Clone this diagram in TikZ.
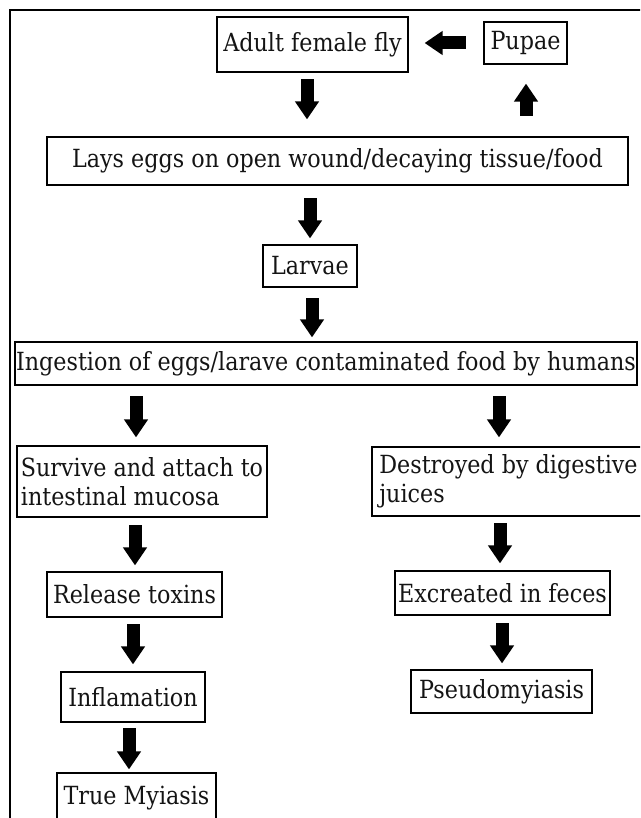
\documentclass[tikz,border=0pt]{standalone}
\usepackage{fontspec}
\setmainfont{DejaVu Serif}[FakeStretch=0.89]
\usetikzlibrary{arrows.meta}
\tikzset{
  box/.style={draw=black, line width=2.8pt, inner sep=0pt, text=black!92,
    font=\fontsize{25}{29}\selectfont},
  mbox/.style={box, align=left},
  barrow/.style={draw=black, line width=13pt,
    -{Triangle[length=18pt,width=23pt]}},
  frame/.style={draw=black, line width=2.5pt}
}
\begin{document}
\begin{tikzpicture}[x=1pt,y=-1pt]
\clip (0,0) rectangle (640,818);
\fill[white] (0,0) rectangle (640,818);
\draw[frame] (660,10) -- (10,10) -- (10,840);

\node[box, minimum width=191, minimum height=55] (adult) at (312.5,44.5) {Adult female fly};
\node[box, minimum width=83, minimum height=42] (pupae) at (525.5,43) {Pupae};
\node[box, minimum width=581, minimum height=48] (lays) at (337.5,161) {Lays eggs on open wound/decaying tissue/food};
\node[box, minimum width=94, minimum height=42] (larvae) at (310,266) {Larvae};
\node[box, minimum width=622, minimum height=43] (ingest) at (326,363.5) {Ingestion of eggs/larave contaminated food by humans};
\node[mbox, minimum width=250, minimum height=71] (survive) at (142,481.5) {Survive and attach to\\intestinal mucosa};
\node[mbox, minimum width=273, minimum height=69] (destroy) at (508.5,481.5) {Destroyed by digestive\\juices};
\node[box, minimum width=175, minimum height=45] (release) at (134.5,594.5) {Release toxins};
\node[box, minimum width=144, minimum height=50] (inflam) at (133,697) {Inflamation};
\node[box, minimum width=159, minimum height=50] (truem) at (136.5,798) {True Myiasis};
\node[box, minimum width=215, minimum height=44] (excr) at (502.5,593) {Excreated in feces};
\node[box, minimum width=181, minimum height=43] (pseudo) at (501.5,691.5) {Pseudomyiasis};

% arrows
\draw[barrow] ([xshift=-17pt]pupae.west) -- ++(-41,0);
\draw[barrow] ([xshift=-5.5pt,yshift=-6pt]adult.south) -- ++(0,40);
\draw[barrow] ([xshift=188.5pt,yshift=20pt]lays.north) -- ++(0,-32);
\draw[barrow] ([xshift=-27.5pt,yshift=-12pt]lays.south) -- ++(0,40);
\draw[barrow] ([xshift=2pt,yshift=-10pt]larvae.south) -- ++(0,39);
\draw[barrow] ([xshift=-190pt,yshift=-10pt]ingest.south) -- ++(0,41);
\draw[barrow] ([xshift=173pt,yshift=-10pt]ingest.south) -- ++(0,41);
\draw[barrow] ([xshift=-7pt,yshift=-7pt]survive.south) -- ++(0,40);
\draw[barrow] ([xshift=-1.5pt,yshift=-6pt]release.south) -- ++(0,40);
\draw[barrow] ([xshift=-4pt,yshift=-5pt]inflam.south) -- ++(0,41);
\draw[barrow] ([xshift=-8.5pt,yshift=-6pt]destroy.south) -- ++(0,40);
\draw[barrow] ([xshift=-0.5pt,yshift=-7pt]excr.south) -- ++(0,40);
\end{tikzpicture}
\end{document}
